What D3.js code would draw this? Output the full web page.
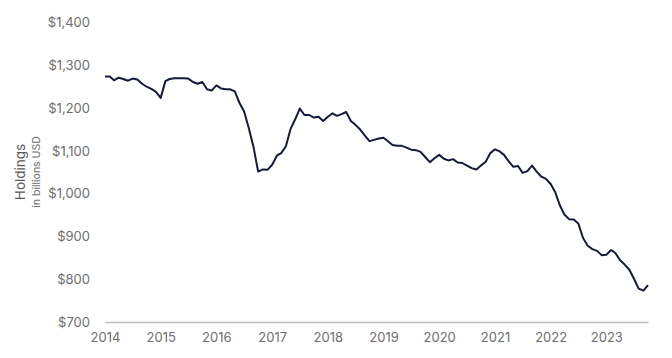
<!DOCTYPE html>
<html>
<head>
<meta charset="utf-8">
<script src="https://cdn.jsdelivr.net/npm/d3@7"></script>
<style>
  html, body { margin: 0; padding: 0; background: #fff; }
  svg { display: block; }
  .tick text { font-family: Inter, "Open Sans", sans-serif; }
</style>
</head>
<body>
<div id="chart"></div>
<script>
// Monthly holdings (billions USD), Jan 2014 onward
const startYear = 2014;
const holdings = [
  1273, 1273, 1264, 1270, 1267, 1263, 1268, 1266, 1256, 1249, 1244, 1237, // 2014
  1223, 1262, 1267, 1269, 1269, 1269, 1268, 1260, 1256, 1260, 1243, 1240, // 2015
  1252, 1245, 1243, 1243, 1238, 1211, 1191, 1152, 1108, 1051, 1056, 1055, // 2016
  1067, 1088, 1094, 1110, 1150, 1173, 1198, 1183, 1183, 1177, 1179, 1169, // 2017
  1179, 1187, 1181, 1185, 1190, 1169, 1160, 1149, 1135, 1122, 1125, 1128, // 2018
  1130, 1121, 1113, 1111, 1111, 1107, 1102, 1101, 1097, 1085, 1073, 1082, // 2019
  1090, 1081, 1077, 1080, 1072, 1071, 1065, 1059, 1056, 1065, 1074, 1094, // 2020
  1103, 1098, 1090, 1075, 1062, 1064, 1048, 1052, 1065, 1051, 1039, 1034, // 2021
  1022, 1002, 973, 951, 940, 939, 930, 896, 878, 870, 866, 856,           // 2022
  857, 868, 861, 844, 834, 822, 801, 778, 773, 786                        // 2023
];
const yearLabels = ["2014","2015","2016","2017","2018","2019","2020","2021","2022","2023"];
const yTickValues = [700, 800, 900, 1000, 1100, 1200, 1300, 1400];
const yTitle = "Holdings";
const ySubtitle = "in billions USD";

const W = 672, H = 358;
const margin = { left: 105, right: 24, top: 22, bottom: 36 };

const data = holdings.map((v, i) => ({ date: new Date(startYear, i, 1), value: v }));

const svg = d3.select("#chart").append("svg")
  .attr("width", W).attr("height", H);

const x = d3.scaleTime()
  .domain([data[0].date, data[data.length - 1].date])
  .range([margin.left, W - margin.right]);

const y = d3.scaleLinear()
  .domain([700, 1400])
  .range([H - margin.bottom, margin.top]);

// Y axis (labels only)
const yAxis = svg.append("g")
  .attr("transform", `translate(${margin.left},0)`)
  .call(d3.axisLeft(y).tickValues(yTickValues).tickSize(0).tickPadding(15)
    .tickFormat(d => "$" + d3.format(",")(d)));
yAxis.select(".domain").remove();
yAxis.selectAll("text").attr("fill", "#6e6e6e").attr("font-size", 13).attr("dy", "0.35em");

// X axis with baseline
const yearDates = yearLabels.map(s => new Date(+s, 0, 1));
const xAxis = svg.append("g")
  .attr("transform", `translate(0,${y(700)})`)
  .call(d3.axisBottom(x).tickValues(yearDates).tickSize(0).tickSizeOuter(0).tickPadding(11)
    .tickFormat((d, i) => yearLabels[i]));
xAxis.select(".domain").attr("stroke", "#bdbdbd").attr("stroke-width", 1.5);
xAxis.selectAll("text").attr("fill", "#6e6e6e").attr("font-size", 13);

// Axis titles
svg.append("text")
  .attr("transform", `translate(25,172) rotate(-90)`)
  .attr("text-anchor", "middle")
  .attr("font-family", "Inter, 'Open Sans', sans-serif")
  .attr("font-size", 13.5)
  .attr("fill", "#5a5a5a")
  .text(yTitle);
svg.append("text")
  .attr("transform", `translate(40,172) rotate(-90)`)
  .attr("text-anchor", "middle")
  .attr("font-family", "Inter, 'Open Sans', sans-serif")
  .attr("font-size", 10.5)
  .attr("fill", "#6e6e6e")
  .text(ySubtitle);

// Line
const line = d3.line()
  .x(d => x(d.date))
  .y(d => y(d.value));

svg.append("path")
  .datum(data)
  .attr("fill", "none")
  .attr("stroke", "#141a3c")
  .attr("stroke-width", 2)
  .attr("stroke-linejoin", "round")
  .attr("d", line);
</script>
</body>
</html>
